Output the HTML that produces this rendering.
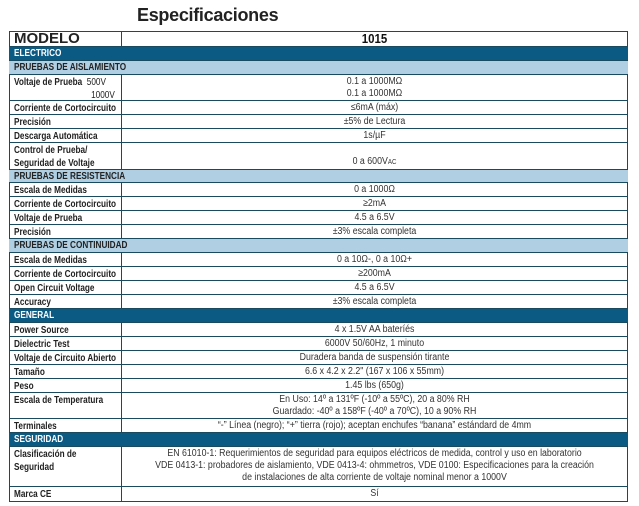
<!DOCTYPE html>
<html><head><meta charset="utf-8"><style>
body{margin:0;width:639px;height:506px;background:#fff;position:relative;overflow:hidden;font-family:"Liberation Sans",sans-serif;color:#222}
.t{position:absolute;left:137px;top:5px;font:bold 18px "Liberation Sans",sans-serif;color:#222;letter-spacing:-0.3px}
.tbl{position:absolute;left:9px;top:31px;width:619px;height:471px;border:1.5px solid #1a4a60;box-sizing:border-box}
.r{position:absolute;left:9px;width:619px;border-bottom:1px solid #1a4a60;box-sizing:border-box}
.l{position:absolute;left:5px;font-weight:bold;font-size:10px;line-height:13px;top:1px;transform:scaleX(0.82);transform-origin:0 0;white-space:nowrap}
.v{position:absolute;left:112px;right:0;text-align:center;font-size:10px;line-height:12px;color:#333;top:1px;transform:scaleX(0.88);transform-origin:center 0}
.d{position:absolute;left:112px;top:0;bottom:0;border-left:1.5px solid #1a4a60}
.h1{background:#0a5a84;color:#fff}
.h2{background:#b0cfe3}
.h1 .l,.h2 .l{line-height:14px;top:0}
</style></head><body>
<div class="t">Especificaciones</div>
<div class="tbl"></div>
<div class="r" style="top:31px;height:16px"><div class="d"></div><div class="l" style="font:bold 15px 'Liberation Sans',sans-serif;line-height:16px;top:0;transform:none">MODELO</div><div class="v" style="font:bold 13px 'Liberation Sans',sans-serif;line-height:16px;color:#111;top:0">1015</div></div>
<div class="r h1" style="top:47px;height:14px"><div class="l">ELECTRICO</div></div>
<div class="r h2" style="top:61px;height:14px"><div class="l">PRUEBAS DE AISLAMIENTO</div></div>
<div class="r" style="top:75px;height:26px"><div class="d"></div><div class="l" style="top:1px">Voltaje de Prueba <span style="font-weight:normal">&nbsp;500V</span><br><span style="font-weight:normal;padding-left:94px">1000V</span></div><div class="v" style="top:1px">0.1 a 1000MΩ<br>0.1 a 1000MΩ</div></div>
<div class="r" style="top:101px;height:14px"><div class="d"></div><div class="l">Corriente de Cortocircuito</div><div class="v">≤6mA (máx)</div></div>
<div class="r" style="top:115px;height:14px"><div class="d"></div><div class="l">Precisión</div><div class="v">±5% de Lectura</div></div>
<div class="r" style="top:129px;height:14px"><div class="d"></div><div class="l">Descarga Automática</div><div class="v">1s/µF</div></div>
<div class="r" style="top:143px;height:27px"><div class="d"></div><div class="l" style="top:1px">Control de Prueba/<br>Seguridad de Voltaje</div><div class="v" style="top:13px">0 a 600V<span style="font-size:7px">AC</span></div></div>
<div class="r h2" style="top:170px;height:13px"><div class="l" style="line-height:13px">PRUEBAS DE RESISTENCIA</div></div>
<div class="r" style="top:183px;height:14px"><div class="d"></div><div class="l">Escala de Medidas</div><div class="v">0 a 1000Ω</div></div>
<div class="r" style="top:197px;height:14px"><div class="d"></div><div class="l">Corriente de Cortocircuito</div><div class="v">≥2mA</div></div>
<div class="r" style="top:211px;height:14px"><div class="d"></div><div class="l">Voltaje de Prueba</div><div class="v">4.5 a 6.5V</div></div>
<div class="r" style="top:225px;height:14px"><div class="d"></div><div class="l">Precisión</div><div class="v">±3% escala completa</div></div>
<div class="r h2" style="top:239px;height:14px"><div class="l">PRUEBAS DE CONTINUIDAD</div></div>
<div class="r" style="top:253px;height:14px"><div class="d"></div><div class="l">Escala de Medidas</div><div class="v">0 a 10Ω-, 0 a 10Ω+</div></div>
<div class="r" style="top:267px;height:14px"><div class="d"></div><div class="l">Corriente de Cortocircuito</div><div class="v">≥200mA</div></div>
<div class="r" style="top:281px;height:14px"><div class="d"></div><div class="l">Open Circuit Voltage</div><div class="v">4.5 a 6.5V</div></div>
<div class="r" style="top:295px;height:14px"><div class="d"></div><div class="l">Accuracy</div><div class="v">±3% escala completa</div></div>
<div class="r h1" style="top:309px;height:14px"><div class="l">GENERAL</div></div>
<div class="r" style="top:323px;height:14px"><div class="d"></div><div class="l">Power Source</div><div class="v">4 x 1.5V AA bateríés</div></div>
<div class="r" style="top:337px;height:14px"><div class="d"></div><div class="l">Dielectric Test</div><div class="v">6000V 50/60Hz, 1 minuto</div></div>
<div class="r" style="top:351px;height:14px"><div class="d"></div><div class="l">Voltaje de Circuito Abierto</div><div class="v">Duradera banda de suspensión tirante</div></div>
<div class="r" style="top:365px;height:14px"><div class="d"></div><div class="l">Tamaño</div><div class="v">6.6 x 4.2 x 2.2" (167 x 106 x 55mm)</div></div>
<div class="r" style="top:379px;height:14px"><div class="d"></div><div class="l">Peso</div><div class="v">1.45 lbs (650g)</div></div>
<div class="r" style="top:393px;height:26px"><div class="d"></div><div class="l" style="top:1px">Escala de Temperatura</div><div class="v" style="top:1px">En Uso: 14º a 131ºF (-10º a 55ºC), 20 a 80% RH<br>Guardado: -40º a 158ºF (-40º a 70ºC), 10 a 90% RH</div></div>
<div class="r" style="top:419px;height:14px"><div class="d"></div><div class="l">Terminales</div><div class="v">“-” Línea (negro); “+” tierra (rojo); aceptan enchufes “banana” estándard de 4mm</div></div>
<div class="r h1" style="top:433px;height:14px"><div class="l">SEGURIDAD</div></div>
<div class="r" style="top:447px;height:40px"><div class="d"></div><div class="l" style="top:1px">Clasificación de<br>Seguridad</div><div class="v" style="top:1px">EN 61010-1: Requerimientos de seguridad para equipos eléctricos de medida, control y uso en laboratorio<br>VDE 0413-1: probadores de aislamiento, VDE 0413-4: ohmmetros, VDE 0100: Especificaciones para la creación<br>de instalaciones de alta corriente de voltaje nominal menor a 1000V</div></div>
<div class="r" style="top:487px;height:15px;border-bottom:none"><div class="d"></div><div class="l">Marca CE</div><div class="v">Sí</div></div>
</body></html>
